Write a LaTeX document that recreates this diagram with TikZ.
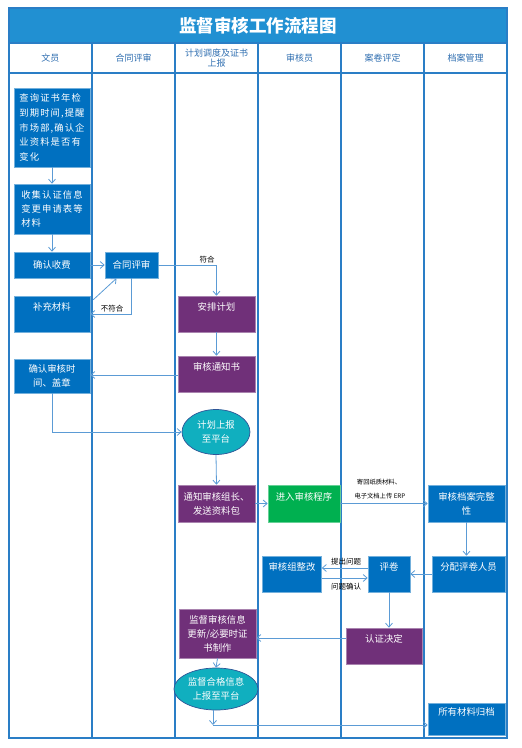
\documentclass[tikz,border=0pt]{standalone}
\usepackage{fontspec}
\setmainfont{Noto Sans CJK SC}
\newfontfamily\cjk{Noto Sans CJK SC}
\newfontfamily\cjkls[LetterSpace=12]{Noto Sans CJK SC}
\usetikzlibrary{arrows.meta,shapes.geometric,calc}
\definecolor{ctitle}{HTML}{2190D2}
\definecolor{cframe}{HTML}{2A7EC6}
\definecolor{chead}{HTML}{2F6EB0}
\definecolor{cblue}{HTML}{0070C0}
\definecolor{cpurple}{HTML}{703079}
\definecolor{cgreen}{HTML}{00B050}
\definecolor{cteal}{HTML}{10AFBF}
\definecolor{cellb}{HTML}{2F5597}
\definecolor{carrow}{HTML}{5B9BD5}
\newcommand{\up}[1]{\raisebox{7pt}[\height][\depth]{#1}}
\begin{document}
\begin{tikzpicture}[x=1pt,y=-1pt,
  sz/.style 2 args={minimum width=#1pt,minimum height=#2pt},
  box/.style={rectangle,text=white,align=center,inner sep=0pt,line width=0.6pt,
    font=\fontsize{9.4}{14}\selectfont\cjk},
  bb/.style={box,fill=cblue,draw=cblue!55!white},
  pb/.style={box,fill=cpurple,draw=cpurple!60!white},
  gb/.style={box,fill=cgreen,draw=cgreen!60!white},
  el/.style={ellipse,fill=cteal,draw=cellb,line width=0.7pt,text=white,align=center,inner sep=0pt,
    font=\fontsize{9.4}{13.5}\selectfont\cjk},
  arr/.style={draw=carrow,line width=0.8pt,-{Straight Barb[length=4pt,width=7pt]}},
  lbl/.style={text=black,inner sep=0pt,font=\fontsize{7.5}{9}\selectfont\cjk},
  slbl/.style={text=black,inner sep=0pt,font=\fontsize{6.3}{8}\selectfont\cjk},
  frame/.style={draw=cframe,line width=1.4pt},
  head/.style={text=chead,align=center,inner sep=0pt,font=\fontsize{9}{10.5}\selectfont\cjk}
]
\useasboundingbox (0,0) rectangle (522,748);
% frame
\fill[ctitle] (9,8) rectangle (507,43);
\draw[frame] (9,8) rectangle (507,738);
\draw[frame] (9,43) -- (507,43);
\draw[frame] (9,73) -- (507,73);
\foreach \x in {92,175,258,341,424} \draw[frame] (\x,43) -- (\x,738);
\node[text=white,inner sep=0pt,font=\fontsize{17.5}{20}\selectfont\cjk\bfseries] (title) at (258,25.5) {监督审核工作流程图};
\node[head] (h1) at (50.5,58) {文员};
\node[head] (h2) at (133.5,58) {合同评审};
\node[head] (h3) at (216.5,58) {计划调度及证书\\上报};
\node[head] (h4) at (299.5,58) {审核员};
\node[head] (h5) at (382.5,58) {案卷评定};
\node[head] (h6) at (465.5,58) {档案管理};
% nodes
\node[bb,sz={76}{79},align=left,font=\fontsize{9.3}{14.6}\selectfont\cjkls] (n1) at (52,127.5) {查询证书年检\\到期时间,提醒\\市场部,确认企\\业资料是否有\\变化};
\node[bb,sz={76}{50},align=left,font=\fontsize{9.3}{14}\selectfont\cjkls] (n2) at (52,209) {收集认证信息\\变更申请表等\\材料};
\node[bb,sz={76}{26}] (n3) at (52,265) {确认收费};
\node[bb,sz={53}{26}] (n4) at (131.5,265) {合同评审};
\node[bb,sz={76}{36}] (n5) at (52,314) {\up{补充材料}};
\node[pb,sz={77}{36}] (n6) at (216.5,314) {\up{安排计划}};
\node[pb,sz={77}{36}] (n7) at (216.5,374) {\up{审核通知书}};
\node[bb,sz={76}{34}] (n8) at (52,376) {确认审核时\\间、盖章};
\node[el,sz={68}{45}] (n9) at (216,432) {计划上报\\至平台};
\node[pb,sz={77}{37}] (n10) at (216.5,503.5) {通知审核组长、\\发送资料包};
\node[gb,sz={72}{37}] (n11) at (304,503.5) {\up{进入审核程序}};
\node[bb,sz={77}{37}] (n12) at (466.5,503.5) {审核档案完整\\性};
\node[bb,sz={73}{36}] (n13) at (468.5,574) {\up{分配评卷人员}};
\node[bb,sz={42}{36}] (n14) at (389,574) {\up{评卷}};
\node[bb,sz={59}{36}] (n15) at (292,574) {\up{审核组整改}};
\node[pb,sz={76}{36}] (n16) at (384,646) {\up{认证决定}};
\node[pb,sz={77}{49}] (n17) at (217.5,633.5) {监督审核信息\\更新/必要时证\\书制作};
\node[el,sz={84}{42}] (n18) at (216,689) {监督合格信息\\上报至平台};
\node[bb,sz={77}{32}] (n19) at (466.5,719) {\up{所有材料归档}};
% connectors
\draw[arr] (n1.south) -- (n2.north);
\draw[arr] (n2.south) -- (n3.north);
\draw[arr] (n3.east) -- (n4.west);
\draw[arr] (n4.east) -| (n6.north);
\node[lbl] (l1) at (207,260) {符合};
\draw[arr] (n4.south) |- (n5.east);
\node[lbl] (l2) at (112,309) {不符合};
\draw[arr] ([shift={(3,4)}]n5.north east) -- ([xshift=-15pt]n4.south);
\draw[arr] (n6.south) -- (n7.north);
\draw[arr] ([yshift=-1pt]n7.west) -- ([yshift=-1pt]n7.west -| n8.east);
\draw[arr] (n8.south) |- (n9.west);
\draw[arr] (n9.south) -- (n10.north);
\draw[arr] (n10.east) -- (n11.west);
\draw[arr] (n11.east) -- (n12.west);
\node[slbl] (l3) at (379,482) {寄回纸质材料、};
\node[slbl] (l4) at (380,496) {电子文档上传 ERP};
\draw[arr] (n12.south) -- (n12.south |- n13.north);
\draw[arr] (n13.west) -- (n14.east);
\draw[arr] ([yshift=6pt]n14.west) -- ([yshift=6pt]n15.east);
\node[lbl] (l5) at (346,562) {提出问题};
\draw[arr] ([yshift=-4pt]n15.east) -- ([yshift=-4pt]n14.west);
\node[lbl] (l6) at (346,587) {问题确认};
\draw[arr] (n14.south) -- (n14.south |- n16.north);
\draw[arr] ([yshift=8pt]n16.west) -- ([yshift=8pt]n16.west -| n17.east);
\draw[arr] (n17.south) -- (n18.north);
\coordinate (cb) at (213,725);
\draw[arr] ([xshift=-3pt]n18.south) -- (cb);
\draw[arr] (cb) -- (cb -| n19.west);
\end{tikzpicture}
\end{document}
